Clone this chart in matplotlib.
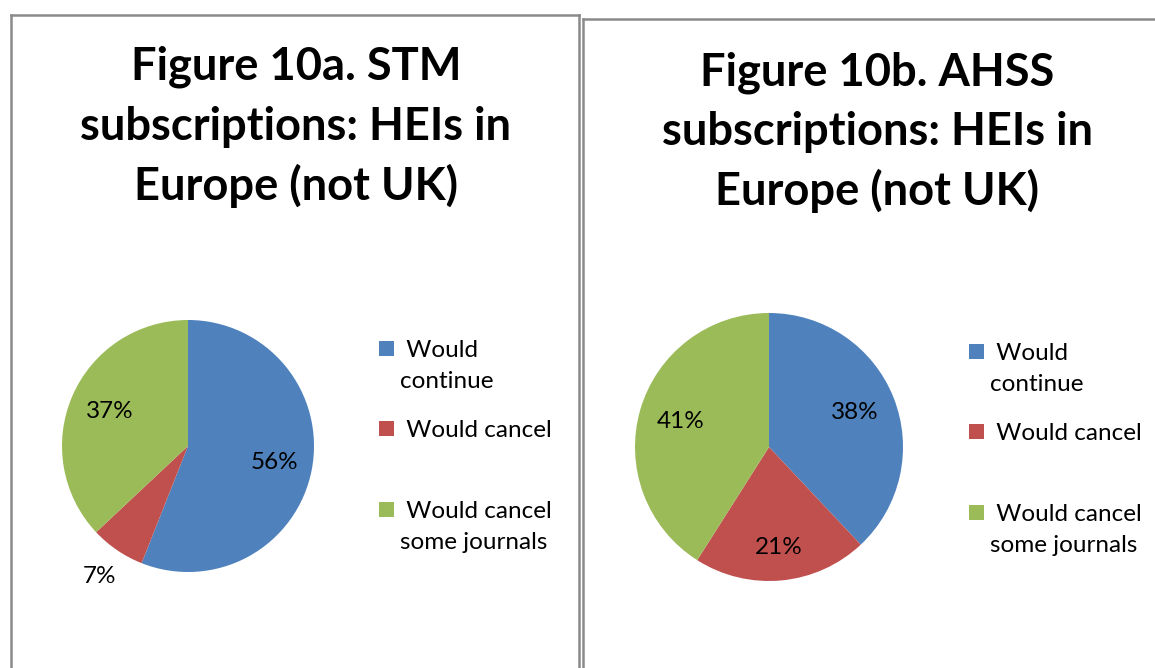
import numpy as np
import matplotlib.pyplot as plt
from matplotlib.lines import Line2D
from matplotlib.patches import Rectangle

# Datos de las dos figuras
categorias = ['Would continue', 'Would cancel', 'Would cancel some journals']
leyenda = [' Would\ncontinue', ' Would cancel', ' Would cancel\nsome journals']
colores = ['#4F81BD', '#C0504D', '#9BBB59']

stm_valores = [56, 7, 37]
ahss_valores = [38, 21, 41]

stm_titulo = ['Figure 10a. STM', 'subscriptions: HEIs in', 'Europe (not UK)']
ahss_titulo = ['Figure 10b. AHSS', 'subscriptions: HEIs in', 'Europe (not UK)']

# distancia de cada etiqueta al centro (fracción del radio)
stm_dist = [0.70, 1.25, 0.68]
ahss_dist = [0.69, 0.75, 0.69]

W, H = 1155, 668
fig = plt.figure(figsize=(W / 100, H / 100), dpi=100)
plt.rcParams['font.family'] = ['Lato', 'DejaVu Sans']


def marco(x0, y0, x1):
    c = '#8a8a8a'
    fig.add_artist(Line2D([x0 / W, x0 / W], [1 - y0 / H, 0], color=c, lw=1.8))
    fig.add_artist(Line2D([x0 / W, x1 / W], [1 - y0 / H, 1 - y0 / H], color=c, lw=1.8))
    fig.add_artist(Line2D([x1 / W, x1 / W], [1 - y0 / H, 0], color=c, lw=1.8))


def panel(valores, titulo, dist, cx, cy, r, tx, ty, lx, ly):
    # titulo
    for i, linea in enumerate(titulo):
        fig.text(tx / W, 1 - (ty + 60 * i) / H, linea, ha='center', va='baseline',
                 fontsize=32.6, fontweight='bold', color='black')
    # pastel
    ax = fig.add_axes([(cx - r) / W, (H - cy - r) / H, 2 * r / W, 2 * r / H])
    wedges, _ = ax.pie(valores, colors=colores, startangle=90, counterclock=False,
                       radius=1, wedgeprops=dict(linewidth=0))
    ax.set_xlim(-1, 1)
    ax.set_ylim(-1, 1)
    ax.set_aspect('equal')
    for w, v, d in zip(wedges, valores, dist):
        ang = np.deg2rad((w.theta1 + w.theta2) / 2)
        ax.text(d * np.cos(ang), d * np.sin(ang), f'{v}%', ha='center', va='center',
                fontsize=17.5, color='black', clip_on=False)
    # leyenda
    ys = [ly, ly + 80, ly + 161]
    for col, lab, y in zip(colores, leyenda, ys):
        fig.add_artist(Rectangle((lx / W, 1 - (y + 7) / H), 15 / W, 15 / H,
                                 facecolor=col, edgecolor='none'))
        fig.text((lx + 21) / W, 1 - (y - 9) / H, lab, ha='left', va='top',
                 fontsize=17.5, linespacing=1.6, color='black')


marco(11, 15, 579)
marco(583, 19, 1200)

panel(stm_valores, stm_titulo, stm_dist, 188, 446, 126, 296, 80, 379, 349)
panel(ahss_valores, ahss_titulo, ahss_dist, 769, 447, 134, 877, 85, 969, 352)

plt.savefig('out.png', dpi=100)
